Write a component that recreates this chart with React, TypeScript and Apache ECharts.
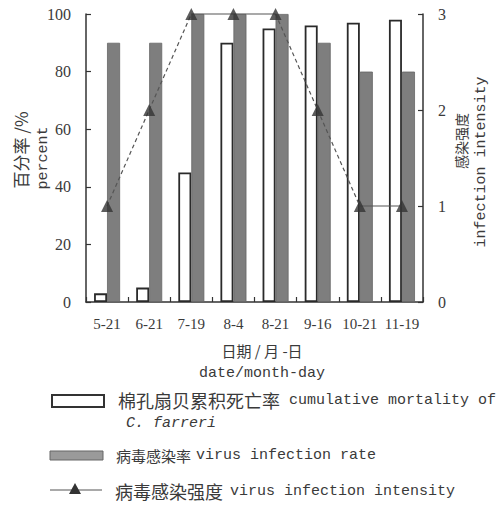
import React, { useEffect, useRef } from "react";
import * as echarts from "echarts";

const categories = ["5-21", "6-21", "7-19", "8-4", "8-21", "9-16", "10-21", "11-19"];
const mortality = [3, 5, 45, 90, 95, 96, 97, 98];
const infectionRate = [90, 90, 100, 100, 100, 90, 80, 80];
const intensity = [1, 2, 3, 3, 3, 2, 1, 1];

const SERIF = "'Liberation Serif', 'DejaVu Serif', serif";
const MONO = "'Liberation Mono', 'DejaVu Sans Mono', monospace";
const CJK = "'Noto Sans CJK SC', sans-serif";
const TXT = "#3a3a3a";
const AX = "#333";

export default function App() {
  const ref = useRef<HTMLDivElement>(null);
  useEffect(() => {
    if (!ref.current) return;
    const chart = echarts.init(ref.current, null, { renderer: "svg" });

    const segSeries = intensity.slice(0, -1).map((v, i) => ({
      type: "line",
      yAxisIndex: 1,
      data: intensity.map((w, j) => (j === i || j === i + 1 ? w : null)),
      symbol: "none",
      connectNulls: false,
      clip: false,
      silent: true,
      z: 4,
      lineStyle: {
        color: "#555",
        width: 1.2,
        type: v === intensity[i + 1] ? "solid" : [4, 3],
      },
    }));

    const option: any = {
      animation: false,
      backgroundColor: "#fff",
      grid: { left: 86, right: 79, top: 14, bottom: 204, containLabel: false },
      xAxis: {
        type: "category",
        data: categories,
        boundaryGap: true,
        axisLine: { show: true, lineStyle: { color: AX, width: 1.5 } },
        axisTick: { show: true, inside: true, length: 5, lineStyle: { color: AX, width: 1.2 } },
        axisLabel: { color: TXT, fontFamily: SERIF, fontSize: 15, margin: 14, interval: 0 },
      },
      yAxis: [
        {
          type: "value",
          min: 0,
          max: 100,
          interval: 20,
          position: "left",
          splitLine: { show: false },
          axisLine: { show: true, lineStyle: { color: AX, width: 1.5 } },
          axisTick: { show: true, inside: true, length: 5, lineStyle: { color: AX, width: 1.2 } },
          axisLabel: { color: TXT, fontFamily: SERIF, fontSize: 16, margin: 15 },
        },
        {
          type: "value",
          min: 0,
          max: 3,
          interval: 1,
          position: "right",
          splitLine: { show: false },
          axisLine: { show: true, lineStyle: { color: AX, width: 1.5 } },
          axisTick: { show: true, inside: true, length: 5, lineStyle: { color: AX, width: 1.2 } },
          axisLabel: { color: TXT, fontFamily: SERIF, fontSize: 16, margin: 15 },
        },
      ],
      series: [
        {
          type: "bar",
          name: "mortality",
          yAxisIndex: 0,
          data: mortality,
          barWidth: 13,
          barGap: "0%",
          itemStyle: { color: "#fff", borderColor: "#2a2a2a", borderWidth: 1.8 },
          z: 2,
        },
        {
          type: "bar",
          name: "rate",
          yAxisIndex: 0,
          data: infectionRate,
          barWidth: 13,
          barGap: "0%",
          itemStyle: { color: "#7e7e7e", borderColor: "#666", borderWidth: 0.8 },
          z: 2,
        },
        ...segSeries,
        {
          type: "scatter",
          name: "intensity",
          yAxisIndex: 1,
          data: intensity,
          symbol: "triangle",
          symbolSize: 12,
          clip: false,
          itemStyle: { color: "#333" },
          z: 6,
        },
      ],
      graphic: [
        { type: "text", x: 20, y: 150, rotation: Math.PI / 2, style: { text: "百分率 /%", font: `17px ${CJK}`, fill: TXT, align: "center", verticalAlign: "middle" } },
        { type: "text", x: 43, y: 158, rotation: Math.PI / 2, style: { text: "percent", font: `15px ${MONO}`, fill: TXT, align: "center", verticalAlign: "middle" } },
        { type: "text", x: 461, y: 141, rotation: Math.PI / 2, style: { text: "感染强度", font: `14px ${CJK}`, fill: TXT, align: "center", verticalAlign: "middle" } },
        { type: "text", x: 481, y: 162, rotation: Math.PI / 2, style: { text: "infection intensity", font: `15px ${MONO}`, fill: TXT, align: "center", verticalAlign: "middle" } },
        { type: "text", x: 262, y: 350, style: { text: "日期 / 月 -日", font: `15px ${CJK}`, fill: TXT, align: "center", verticalAlign: "middle" } },
        { type: "text", x: 262, y: 373, style: { text: "date/month-day", font: `15px ${MONO}`, fill: TXT, align: "center", verticalAlign: "middle" } },
        // legend 1
        { type: "rect", shape: { x: 52, y: 395, width: 52, height: 12 }, style: { fill: "#fff", stroke: "#333", lineWidth: 2 } },
        { type: "text", x: 118, y: 400, style: { text: "棉孔扇贝累积死亡率", font: `18px ${CJK}`, fill: TXT, align: "left", verticalAlign: "middle" } },
        { type: "text", x: 289, y: 400, style: { text: "cumulative mortality of", font: `15px ${MONO}`, fill: TXT, align: "left", verticalAlign: "middle" } },
        { type: "text", x: 126, y: 423, style: { text: "C. farreri", font: `italic 15px ${MONO}`, fill: TXT, align: "left", verticalAlign: "middle" } },
        // legend 2
        { type: "rect", shape: { x: 50, y: 451, width: 53, height: 9 }, style: { fill: "#9a9a9a", stroke: "#666", lineWidth: 1 } },
        { type: "text", x: 116, y: 455, style: { text: "病毒感染率", font: `15px ${CJK}`, fill: TXT, align: "left", verticalAlign: "middle" } },
        { type: "text", x: 196, y: 455, style: { text: "virus infection rate", font: `15px ${MONO}`, fill: TXT, align: "left", verticalAlign: "middle" } },
        // legend 3
        { type: "line", shape: { x1: 50, y1: 490, x2: 102, y2: 490 }, style: { stroke: "#555", lineWidth: 1.2 } },
        { type: "polygon", shape: { points: [[75, 483], [69, 494], [81, 494]] }, style: { fill: "#333" } },
        { type: "text", x: 115, y: 491, style: { text: "病毒感染强度", font: `18px ${CJK}`, fill: TXT, align: "left", verticalAlign: "middle" } },
        { type: "text", x: 230, y: 491, style: { text: "virus infection intensity", font: `15px ${MONO}`, fill: TXT, align: "left", verticalAlign: "middle" } },
      ],
    };
    chart.setOption(option);
    return () => chart.dispose();
  }, []);
  return <div ref={ref} style={{ position: "fixed", left: 0, top: 0, width: 502, height: 506 }} />;
}
